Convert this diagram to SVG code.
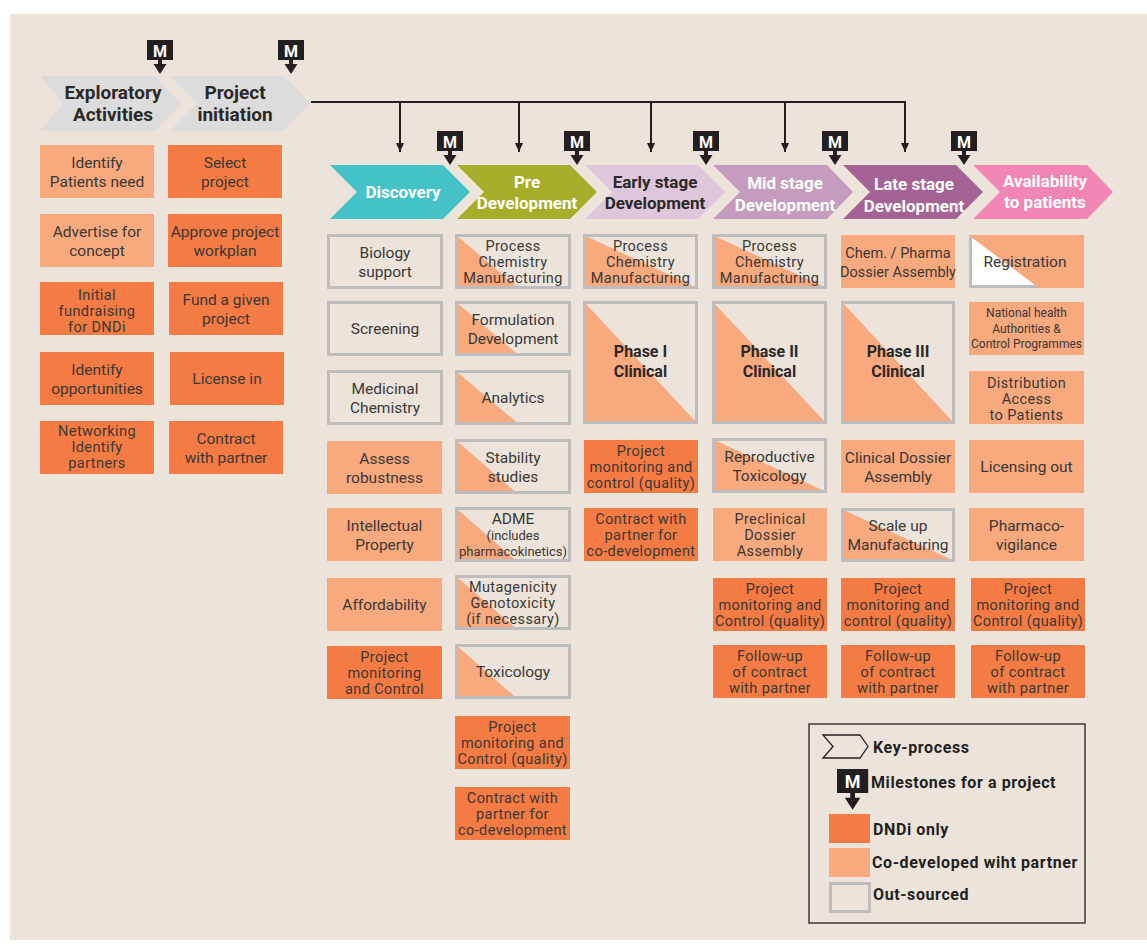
<svg xmlns="http://www.w3.org/2000/svg" width="1147" height="949" viewBox="0 0 1147 949">
<defs>
<style>
.t{font-family:Roboto,'Liberation Sans',sans-serif;font-size:15.5px;fill:#3b3835;text-anchor:middle}
.t3{font-size:14.5px;letter-spacing:0.4px}
.sm{font-size:12px;letter-spacing:0}
.md{font-size:13px}
.b{font-weight:bold;font-size:16px;fill:#2b2826}
.hd{font-family:Roboto,'Liberation Sans',sans-serif;font-weight:bold;font-size:17px;text-anchor:middle;fill:#fff}
.big{font-size:19px}
.hk{fill:#2b2826}
.d{fill:#f47b43}
.l{fill:#f8a97e}
.o{fill:none;stroke:#bdbdbd;stroke-width:3}
.mk{fill:#231f20}
.mt{font-family:Roboto,'Liberation Sans',sans-serif;font-weight:bold;font-size:16px;fill:#fff;text-anchor:middle}
.lg{font-family:Roboto,'Liberation Sans',sans-serif;font-weight:bold;font-size:16px;letter-spacing:0.6px;fill:#231f20}
.cn{fill:none;stroke:#231f20;stroke-width:2}
</style>
<marker id="ah" markerUnits="userSpaceOnUse" markerWidth="9" markerHeight="8" refX="9" refY="4" orient="auto" viewBox="0 0 9 8">
<path d="M0,0 L9,4 L0,8 Z" fill="#231f20"/>
</marker>
</defs>

<!-- page -->
<rect x="0" y="0" width="1147" height="949" fill="#fff"/>
<rect x="10" y="14" width="1137" height="926" fill="#ece4da"/>

<!-- connectors: project initiation feeding each phase -->
<g id="connectors">
<path class="cn" d="M311,102 H905"/>
<path class="cn" d="M400,101 V152" marker-end="url(#ah)"/>
<path class="cn" d="M519,101 V152" marker-end="url(#ah)"/>
<path class="cn" d="M651,101 V152" marker-end="url(#ah)"/>
<path class="cn" d="M785,101 V152" marker-end="url(#ah)"/>
<path class="cn" d="M905,101 V152" marker-end="url(#ah)"/>
</g>

<!-- milestone markers -->
<g id="milestones">
<g transform="translate(147,40)"><rect class="mk" width="26" height="20"/><path class="mk" d="M11,19 H15 V24 H19.5 L13,34 L6.5,24 H11 Z"/><text class="mt" x="13" y="17">M</text></g>
<g transform="translate(278,40)"><rect class="mk" width="26" height="20"/><path class="mk" d="M11,19 H15 V24 H19.5 L13,34 L6.5,24 H11 Z"/><text class="mt" x="13" y="17">M</text></g>
<g transform="translate(437,131)"><rect class="mk" width="26" height="20"/><path class="mk" d="M11,19 H15 V24 H19.5 L13,34 L6.5,24 H11 Z"/><text class="mt" x="13" y="17">M</text></g>
<g transform="translate(564,131)"><rect class="mk" width="26" height="20"/><path class="mk" d="M11,19 H15 V24 H19.5 L13,34 L6.5,24 H11 Z"/><text class="mt" x="13" y="17">M</text></g>
<g transform="translate(693,131)"><rect class="mk" width="26" height="20"/><path class="mk" d="M11,19 H15 V24 H19.5 L13,34 L6.5,24 H11 Z"/><text class="mt" x="13" y="17">M</text></g>
<g transform="translate(822,131)"><rect class="mk" width="26" height="20"/><path class="mk" d="M11,19 H15 V24 H19.5 L13,34 L6.5,24 H11 Z"/><text class="mt" x="13" y="17">M</text></g>
<g transform="translate(951,131)"><rect class="mk" width="26" height="20"/><path class="mk" d="M11,19 H15 V24 H19.5 L13,34 L6.5,24 H11 Z"/><text class="mt" x="13" y="17">M</text></g>
</g>

<!-- key-process chevrons -->
<g id="hdr-exploratory"><polygon fill="#dcdcdd" points="40,76 155,76 182,103.5 155,131 40,131 63,103.5"/><text class="hd hk big" x="113" y="99">Exploratory</text><text class="hd hk big" x="113" y="121">Activities</text></g>
<g id="hdr-initiation"><polygon fill="#dcdcdd" points="170,76 283,76 311,103.5 283,131 170,131 197,103.5"/><text class="hd hk big" x="235" y="99">Project</text><text class="hd hk big" x="235" y="121">initiation</text></g>
<g id="hdr-discovery"><polygon fill="#44c2c7" points="330,165 443,165 470,192 443,219 330,219 357,192"/><text class="hd" x="403" y="198">Discovery</text></g>
<g id="hdr-predev"><polygon fill="#a6ad2b" points="457,165 570,165 597,192 570,219 457,219 484,192"/><text class="hd" x="527" y="188">Pre</text><text class="hd" x="527" y="209">Development</text></g>
<g id="hdr-early"><polygon fill="#dec7da" points="585,165 698,165 725,192 698,219 585,219 612,192"/><text class="hd hk" x="655" y="188">Early stage</text><text class="hd hk" x="655" y="209">Development</text></g>
<g id="hdr-mid"><polygon fill="#c59cbd" points="713,165 827,165 853,192 827,219 713,219 740,192"/><text class="hd" x="785" y="189">Mid stage</text><text class="hd" x="785" y="211">Development</text></g>
<g id="hdr-late"><polygon fill="#a56294" points="843,165 956,165 983,192 956,219 843,219 870,192"/><text class="hd" x="914" y="190">Late stage</text><text class="hd" x="914" y="212">Development</text></g>
<g id="hdr-availability"><polygon fill="#f185b3" points="973,165 1087,165 1113,192 1087,219 973,219 1000,192"/><text class="hd" x="1045" y="187">Availability</text><text class="hd" x="1045" y="208">to patients</text></g>

<!-- exploratory activities -->
<g id="n-identify-need"><rect class="l" x="40" y="145" width="114" height="53"/><text class="t"><tspan x="97" y="167.5">Identify</tspan><tspan x="97" y="186.5">Patients need</tspan></text></g>
<g id="n-advertise"><rect class="l" x="40" y="214" width="114" height="53"/><text class="t"><tspan x="97" y="236.5">Advertise for</tspan><tspan x="97" y="255.5">concept</tspan></text></g>
<g id="n-fundraising"><rect class="d" x="40" y="282" width="114" height="53"/><text class="t t3"><tspan x="97" y="300">Initial</tspan><tspan x="97" y="316">fundraising</tspan><tspan x="97" y="332">for DNDi</tspan></text></g>
<g id="n-opportunities"><rect class="d" x="40" y="352" width="114" height="53"/><text class="t"><tspan x="97" y="374.5">Identify</tspan><tspan x="97" y="393.5">opportunities</tspan></text></g>
<g id="n-networking"><rect class="d" x="40" y="421" width="114" height="53"/><text class="t t3"><tspan x="97" y="436">Networking</tspan><tspan x="97" y="452">Identify</tspan><tspan x="97" y="468">partners</tspan></text></g>

<!-- project initiation -->
<g id="n-select"><rect class="d" x="168" y="145" width="114" height="53"/><text class="t"><tspan x="225" y="167.5">Select</tspan><tspan x="225" y="186.5">project</tspan></text></g>
<g id="n-approve"><rect class="d" x="168" y="214" width="114" height="53"/><text class="t"><tspan x="225" y="236.5">Approve project</tspan><tspan x="225" y="255.5">workplan</tspan></text></g>
<g id="n-fund"><rect class="d" x="169" y="282" width="114" height="53"/><text class="t"><tspan x="226" y="304.5">Fund a given</tspan><tspan x="226" y="323.5">project</tspan></text></g>
<g id="n-license-in"><rect class="d" x="170" y="352" width="114" height="53"/><text class="t" x="227" y="384">License in</text></g>
<g id="n-contract"><rect class="d" x="169" y="421" width="114" height="53"/><text class="t"><tspan x="226" y="443.5">Contract</tspan><tspan x="226" y="462.5">with partner</tspan></text></g>

<!-- discovery -->
<g id="n-biology"><rect class="o" x="328.5" y="235.5" width="113" height="52"/><text class="t"><tspan x="385" y="257.5">Biology</tspan><tspan x="385" y="276.5">support</tspan></text></g>
<g id="n-screening"><rect class="o" x="328.5" y="302.5" width="113" height="52"/><text class="t" x="385" y="334">Screening</text></g>
<g id="n-medchem"><rect class="o" x="328.5" y="371.5" width="113" height="52"/><text class="t"><tspan x="385" y="393.5">Medicinal</tspan><tspan x="385" y="412.5">Chemistry</tspan></text></g>
<g id="n-robustness"><rect class="l" x="327" y="441" width="115" height="53"/><text class="t"><tspan x="384.5" y="463.5">Assess</tspan><tspan x="384.5" y="482.5">robustness</tspan></text></g>
<g id="n-ip"><rect class="l" x="327" y="508" width="115" height="53"/><text class="t"><tspan x="384.5" y="530.5">Intellectual</tspan><tspan x="384.5" y="549.5">Property</tspan></text></g>
<g id="n-affordability"><rect class="l" x="327" y="578" width="115" height="53"/><text class="t" x="384.5" y="610">Affordability</text></g>
<g id="n-disc-monitoring"><rect class="d" x="327" y="646" width="115" height="53"/><text class="t t3"><tspan x="384.5" y="661.5">Project</tspan><tspan x="384.5" y="677.5">monitoring</tspan><tspan x="384.5" y="693.5">and Control</tspan></text></g>

<!-- pre development -->
<g id="n-pre-process"><polygon class="l" points="456.5,235.5 456.5,287.5 518,287.5"/><rect class="o" x="456.5" y="235.5" width="113" height="52"/><text class="t t3"><tspan x="513" y="250.5">Process</tspan><tspan x="513" y="266.5">Chemistry</tspan><tspan x="513" y="282.5">Manufacturing</tspan></text></g>
<g id="n-formulation"><polygon class="l" points="456.5,302.5 456.5,354.5 518,354.5"/><rect class="o" x="456.5" y="302.5" width="113" height="52"/><text class="t"><tspan x="513" y="324.5">Formulation</tspan><tspan x="513" y="343.5">Development</tspan></text></g>
<g id="n-analytics"><polygon class="l" points="456.5,371.5 456.5,423.5 518,423.5"/><rect class="o" x="456.5" y="371.5" width="113" height="52"/><text class="t" x="513" y="403">Analytics</text></g>
<g id="n-stability"><polygon class="l" points="456.5,440.5 456.5,492.5 516,492.5"/><rect class="o" x="456.5" y="440.5" width="113" height="52"/><text class="t"><tspan x="513" y="462.5">Stability</tspan><tspan x="513" y="481.5">studies</tspan></text></g>
<g id="n-adme"><polygon class="l" points="456.5,508.5 456.5,560.5 516,560.5"/><rect class="o" x="456.5" y="508.5" width="113" height="52"/><text class="t"><tspan x="513" y="524">ADME</tspan><tspan class="md" x="513" y="540">(includes</tspan><tspan class="md" x="513" y="555.5">pharmacokinetics)</tspan></text></g>
<g id="n-mutagenicity"><polygon class="l" points="456.5,576.5 456.5,628.5 516,628.5"/><rect class="o" x="456.5" y="576.5" width="113" height="52"/><text class="t t3"><tspan x="513" y="591.5">Mutagenicity</tspan><tspan x="513" y="607.5">Genotoxicity</tspan><tspan x="513" y="623.5">(if necessary)</tspan></text></g>
<g id="n-toxicology"><polygon class="l" points="456.5,645.5 456.5,697.5 516,697.5"/><rect class="o" x="456.5" y="645.5" width="113" height="52"/><text class="t" x="513" y="677">Toxicology</text></g>
<g id="n-pre-monitoring"><rect class="d" x="455" y="716" width="115" height="53"/><text class="t t3"><tspan x="512.5" y="731.5">Project</tspan><tspan x="512.5" y="747.5">monitoring and</tspan><tspan x="512.5" y="763.5">Control (quality)</tspan></text></g>
<g id="n-pre-contract"><rect class="d" x="455" y="787" width="115" height="53"/><text class="t t3"><tspan x="512.5" y="802.5">Contract with</tspan><tspan x="512.5" y="818.5">partner for</tspan><tspan x="512.5" y="834.5">co-development</tspan></text></g>

<!-- early stage development -->
<g id="n-early-process"><polygon class="l" points="584.5,235.5 584.5,287.5 696.5,287.5"/><rect class="o" x="584.5" y="235.5" width="112" height="52"/><text class="t t3"><tspan x="640.5" y="250.5">Process</tspan><tspan x="640.5" y="266.5">Chemistry</tspan><tspan x="640.5" y="282.5">Manufacturing</tspan></text></g>
<g id="n-phase1"><polygon class="l" points="584.5,302.5 584.5,422.5 696.5,422.5"/><rect class="o" x="584.5" y="302.5" width="112" height="120"/><text class="t b"><tspan x="640.5" y="357">Phase I</tspan><tspan x="640.5" y="377">Clinical</tspan></text></g>
<g id="n-early-monitoring"><rect class="d" x="584" y="440" width="114" height="53"/><text class="t t3"><tspan x="641" y="455.5">Project</tspan><tspan x="641" y="471.5">monitoring and</tspan><tspan x="641" y="487.5">control (quality)</tspan></text></g>
<g id="n-early-contract"><rect class="d" x="584" y="508" width="114" height="53"/><text class="t t3"><tspan x="641" y="523.5">Contract with</tspan><tspan x="641" y="539.5">partner for</tspan><tspan x="641" y="555.5">co-development</tspan></text></g>

<!-- mid stage development -->
<g id="n-mid-process"><polygon class="l" points="713.5,235.5 713.5,287.5 825.5,287.5"/><rect class="o" x="713.5" y="235.5" width="112" height="52"/><text class="t t3"><tspan x="769.5" y="250.5">Process</tspan><tspan x="769.5" y="266.5">Chemistry</tspan><tspan x="769.5" y="282.5">Manufacturing</tspan></text></g>
<g id="n-phase2"><polygon class="l" points="713.5,302.5 713.5,422.5 825.5,422.5"/><rect class="o" x="713.5" y="302.5" width="112" height="120"/><text class="t b"><tspan x="769.5" y="357">Phase II</tspan><tspan x="769.5" y="377">Clinical</tspan></text></g>
<g id="n-reprotox"><polygon class="l" points="713.5,439.5 713.5,491.5 825.5,491.5"/><rect class="o" x="713.5" y="439.5" width="112" height="52"/><text class="t"><tspan x="769.5" y="461.5">Reproductive</tspan><tspan x="769.5" y="480.5">Toxicology</tspan></text></g>
<g id="n-preclinical-dossier"><rect class="l" x="713" y="508" width="114" height="53"/><text class="t t3"><tspan x="770" y="523.5">Preclinical</tspan><tspan x="770" y="539.5">Dossier</tspan><tspan x="770" y="555.5">Assembly</tspan></text></g>
<g id="n-mid-monitoring"><rect class="d" x="713" y="578" width="114" height="53"/><text class="t t3"><tspan x="770" y="593.5">Project</tspan><tspan x="770" y="609.5">monitoring and</tspan><tspan x="770" y="625.5">Control (quality)</tspan></text></g>
<g id="n-mid-followup"><rect class="d" x="713" y="645" width="114" height="53"/><text class="t t3"><tspan x="770" y="660.5">Follow-up</tspan><tspan x="770" y="676.5">of contract</tspan><tspan x="770" y="692.5">with partner</tspan></text></g>

<!-- late stage development -->
<g id="n-chem-dossier"><rect class="l" x="841" y="235" width="114" height="53"/><text class="t" style="font-size:14.5px"><tspan x="898" y="257.5">Chem. / Pharma</tspan><tspan x="898" y="276.5">Dossier Assembly</tspan></text></g>
<g id="n-phase3"><polygon class="l" points="842.5,302.5 842.5,422.5 953.5,422.5"/><rect class="o" x="842.5" y="302.5" width="111" height="120"/><text class="t b"><tspan x="898" y="357">Phase III</tspan><tspan x="898" y="377">Clinical</tspan></text></g>
<g id="n-clinical-dossier"><rect class="l" x="841" y="440" width="114" height="53"/><text class="t"><tspan x="898" y="462.5">Clinical Dossier</tspan><tspan x="898" y="481.5">Assembly</tspan></text></g>
<g id="n-scaleup"><polygon class="l" points="842.5,509.5 842.5,560.5 953.5,560.5"/><rect class="o" x="842.5" y="509.5" width="111" height="51"/><text class="t"><tspan x="898" y="531">Scale  up</tspan><tspan x="898" y="550">Manufacturing</tspan></text></g>
<g id="n-late-monitoring"><rect class="d" x="841" y="578" width="114" height="53"/><text class="t t3"><tspan x="898" y="593.5">Project</tspan><tspan x="898" y="609.5">monitoring and</tspan><tspan x="898" y="625.5">control (quality)</tspan></text></g>
<g id="n-late-followup"><rect class="d" x="841" y="645" width="114" height="53"/><text class="t t3"><tspan x="898" y="660.5">Follow-up</tspan><tspan x="898" y="676.5">of contract</tspan><tspan x="898" y="692.5">with partner</tspan></text></g>

<!-- availability to patients -->
<g id="n-registration"><rect class="l" x="969" y="235" width="115" height="53"/><polygon fill="#fff" points="970.5,236.5 970.5,286.5 1037,286.5"/><polyline class="o" points="970.5,236.5 970.5,286.5 1037,286.5"/><text class="t" x="1025" y="267">Registration</text></g>
<g id="n-national"><rect class="l" x="969" y="302" width="115" height="53"/><text class="t sm"><tspan x="1026.5" y="317">National health</tspan><tspan x="1026.5" y="332.5">Authorities &amp;</tspan><tspan x="1026.5" y="348">Control Programmes</tspan></text></g>
<g id="n-distribution"><rect class="l" x="969" y="371" width="115" height="53"/><text class="t t3"><tspan x="1026.5" y="388">Distribution</tspan><tspan x="1026.5" y="404">Access</tspan><tspan x="1026.5" y="420">to Patients</tspan></text></g>
<g id="n-licensing-out"><rect class="l" x="969" y="440" width="115" height="53"/><text class="t" x="1026.5" y="472">Licensing out</text></g>
<g id="n-pharmacovigilance"><rect class="l" x="969" y="508" width="115" height="53"/><text class="t"><tspan x="1026.5" y="530.5">Pharmaco-</tspan><tspan x="1026.5" y="549.5">vigilance</tspan></text></g>
<g id="n-avail-monitoring"><rect class="d" x="971" y="578" width="114" height="53"/><text class="t t3"><tspan x="1028" y="593.5">Project</tspan><tspan x="1028" y="609.5">monitoring and</tspan><tspan x="1028" y="625.5">Control (quality)</tspan></text></g>
<g id="n-avail-followup"><rect class="d" x="971" y="645" width="114" height="53"/><text class="t t3"><tspan x="1028" y="660.5">Follow-up</tspan><tspan x="1028" y="676.5">of contract</tspan><tspan x="1028" y="692.5">with partner</tspan></text></g>

<!-- legend -->
<g id="legend">
<rect x="809" y="724" width="276" height="199" fill="none" stroke="#3a3a3a" stroke-width="1.5"/>
<polygon points="823,735 860,735 868,746.5 860,758 823,758 833,746.5" fill="none" stroke="#231f20" stroke-width="1.3"/>
<text class="lg" x="873" y="753">Key-process</text>
<g transform="translate(837,769) scale(1.2)"><rect class="mk" width="26" height="20"/><path class="mk" d="M11,19 H15 V24 H19.5 L13,34 L6.5,24 H11 Z"/></g>
<text class="mt" x="852.6" y="788" style="font-size:18px">M</text>
<text class="lg" x="871" y="788">Milestones for a project</text>
<rect class="d" x="829" y="814" width="41" height="29"/>
<text class="lg" x="873" y="835">DNDi only</text>
<rect class="l" x="829" y="848" width="41" height="29"/>
<text class="lg" x="872" y="868">Co-developed wiht partner</text>
<rect class="o" x="830.5" y="883.5" width="39" height="28"/>
<text class="lg" x="873" y="900">Out-sourced</text>
</g>
</svg>
